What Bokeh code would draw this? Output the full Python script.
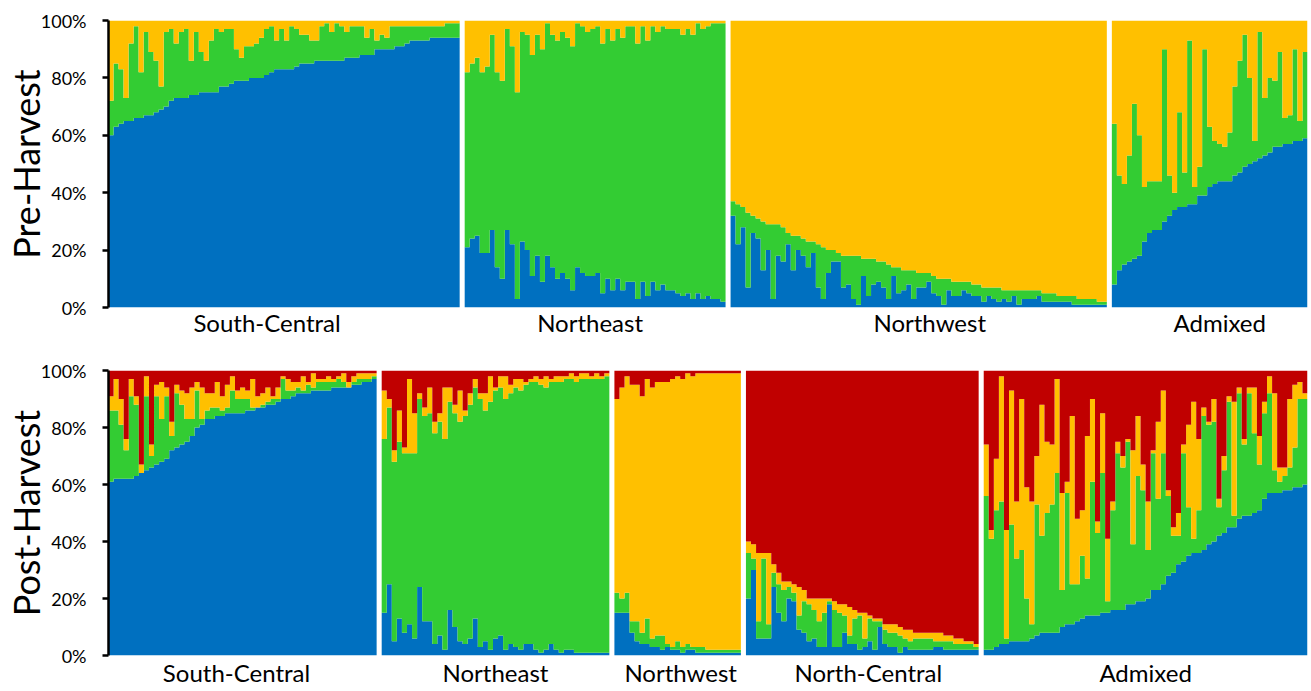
from bokeh.plotting import figure
from bokeh.layouts import column
from bokeh.models import ColumnDataSource, Range1d, FixedTicker, PrintfTickFormatter
from bokeh.embed import file_html
from bokeh.resources import INLINE

# ---------------- Pre-Harvest (K=3) ----------------
pre_groups = ["South-Central", "Northeast", "Northwest", "Admixed"]

pre_sc_blue = [60,63,64,65,65,66,66,67,67,68, 69,70,72,73,73,73,74,74,75,75,
               75,75,77,77,78,79,79,79,80,80, 80,81,82,83,83,83,83,84,85,85,
               85,86,86,86,86,86,86,87,87,87, 88,88,88,90,90,90,90,91,91,92,
               93,93,93,93,94,94,94,94,94,94]
pre_sc_green = [12,22,19,8,27,32,16,29,22,18, 8,26,25,19,23,24,12,22,14,11,
                18,22,19,20,19,11,8,12,11,12, 14,16,16,10,14,10,15,13,10,10,
                8,7,12,13,10,13,12,9,11,11, 10,6,9,3,5,4,8,7,7,6,
                5,5,5,5,4,4,4,5,5,5]
pre_sc_yellow = [28,15,17,27,8,2,18,4,11,14, 23,4,3,8,4,3,14,4,11,14,
                 7,3,4,3,3,10,13,9,9,8, 6,3,2,7,3,7,2,3,5,5,
                 7,7,2,1,4,1,2,4,2,2, 2,6,3,7,5,6,2,2,2,2,
                 2,2,2,2,2,2,2,1,1,1]

pre_ne_blue = [21,24,25,19,19,27,14,10,27,22, 3,23,20,11,18,9,18,14,10,12,
               10,6,14,12,11,11,12,5,10,6, 10,6,9,9,3,9,4,9,6,8,
               6,6,5,4,5,3,5,3,4,3, 3,2]
pre_ne_green = [61,61,62,63,65,68,68,69,70,69, 72,73,75,77,77,81,81,81,83,84,
                84,85,85,86,85,86,86,87,87,87, 87,88,89,89,89,89,89,89,90,90,
                91,91,92,91,92,92,94,94,94,96, 96,97]
pre_ne_yellow = [18,15,13,18,16,5,18,21,3,9, 25,4,5,12,5,10,1,5,7,4,
                 6,9,1,2,4,3,2,8,3,7, 3,6,2,2,8,2,7,2,4,2,
                 3,3,3,5,3,5,1,3,2,1, 1,1]

pre_nw_blue = [32,22,28,7,26,24,13,20,3,18, 16,22,13,20,18,14,19,7,3,12,
               16,16,7,8,3,1,11,4,8,9, 7,3,11,5,6,8,3,7,7,9,
               5,4,1,6,4,4,6,5,4,4, 2,4,3,2,3,2,4,1,3,3,
               3,4,2,2,2,2,2,2,1,1, 1,1,1,1,1]
pre_nw_green = [5,14,7,26,6,7,17,9,26,11, 12,4,12,5,6,9,4,15,18,8,
                4,3,11,10,15,17,6,13,9,7, 9,12,3,9,7,5,10,5,5,3,
                6,6,9,4,5,5,3,4,4,4, 5,3,4,5,3,4,2,5,3,3,
                3,2,3,3,3,2,2,2,3,2, 2,2,2,1,1]
pre_nw_yellow = [63,64,65,67,68,69,70,71,71,71, 72,74,75,75,76,77,77,78,79,80,
                 80,81,82,82,82,82,83,83,83,84, 84,85,86,86,87,87,87,88,88,88,
                 89,90,90,90,91,91,91,91,92,92, 93,93,93,93,94,94,94,94,94,94,
                 94,94,95,95,95,96,96,96,96,97, 97,97,97,98,98]

pre_ad_blue = [8,13,15,16,17,18,23,26,27,27, 30,32,34,35,35,36,36,39,39,42,
               43,44,44,44,46,47,49,50,51,52, 53,54,56,56,57,57,58,58,59]
pre_ad_green = [56,33,28,37,54,42,19,18,17,17, 60,14,6,33,12,57,6,10,51,21,
                15,13,12,17,31,39,46,30,7,44, 20,26,23,33,9,10,32,7,30]
pre_ad_yellow = [36,54,57,47,29,40,58,56,56,56, 10,54,60,32,53,7,58,51,10,37,
                 42,43,44,39,23,14,5,20,42,4, 27,20,21,11,34,33,10,35,11]

# ---------------- Post-Harvest (K=4) ----------------
post_groups = ["South-Central", "Northeast", "Northwest", "North-Central", "Admixed"]

post_sc_blue = [61,62,62,62,62,63,64,65,66,67, 68,69,72,73,74,75,77,80,81,83,
                83,84,84,85,85,85,85,86,86,87, 87,88,88,89,90,90,91,92,92,92,
                93,93,93,93,94,94,94,94,95,95, 96,96,97]
post_sc_green = [25,24,19,10,29,25,0,26,4,24, 15,22,5,19,14,8,6,13,2,3,
                 4,3,2,2,8,5,5,4,1,0, 1,1,2,1,7,3,2,2,1,3,
                 1,3,3,3,2,3,2,0,1,2, 1,1,1]
post_sc_yellow = [5,11,9,4,6,3,3,7,4,4, 13,3,5,3,5,9,11,3,11,6,
                  5,9,5,8,5,3,4,3,10,4, 4,5,1,4,1,4,3,2,5,1,
                  5,1,1,2,1,1,3,2,2,2, 2,2,1]
post_sc_red = [9,3,10,24,3,9,33,2,26,5, 4,6,18,5,7,8,6,4,6,8,
               8,4,9,5,2,7,6,7,3,9, 8,6,9,6,2,3,4,4,2,4,
               1,3,3,2,3,2,1,4,2,1, 1,1,1]

post_ne_blue = [15,25,5,13,8,11,6,24,12,12, 4,7,2,16,10,5,4,6,13,3,
                5,2,6,7,2,4,3,2,4,4, 2,1,2,4,2,1,2,2,1,1,
                1,1,1,1,1]
post_ne_green = [61,62,63,62,63,60,65,66,72,73, 74,75,74,73,75,77,80,82,81,87,
                 81,87,87,87,88,88,91,91,91,92, 94,94,92,92,94,95,95,95,95,96,
                 96,96,96,96,97]
post_ne_yellow = [17,3,4,11,2,26,14,2,3,9, 4,3,18,5,3,11,2,4,3,2,
                  6,9,1,4,8,3,3,4,1,1, 2,2,4,1,2,2,1,2,2,2,
                  2,1,2,1,1]
post_ne_red = [7,10,28,14,27,3,15,8,13,6, 18,15,6,6,12,7,14,8,3,8,
               8,2,6,2,2,5,3,3,4,3, 2,3,2,3,2,2,2,1,2,1,
               1,2,1,2,1]

post_nw_blue = [15,15,15,8,5,4,4,3,3,2, 3,2,2,1,2,2,1,1,1,1, 1,1,1,1,1]
post_nw_green = [7,5,7,4,7,4,9,3,4,5, 1,1,3,2,2,1,2,2,1,1, 1,1,1,1,1]
post_nw_yellow = [68,74,76,83,83,83,84,88,89,89, 92,94,93,94,95,95,96,96,97,97,
                  97,97,97,97,97]
post_nw_red = [10,6,2,5,5,9,3,6,4,4, 4,3,2,3,1,2,1,1,1,1, 1,1,1,1,1]

post_nc_blue = [20,30,6,6,6,24,15,12,20,19, 9,8,5,6,3,3,18,3,3,8,
                4,4,2,3,5,2,10,4,3,3, 1,3,2,2,2,2,2,3,3,2,
                2,2,2,2,2,2]
post_nc_green = [16,4,6,28,5,5,10,11,4,3, 5,11,13,10,9,12,1,13,12,6,
                 3,9,12,3,8,10,2,5,5,5, 6,3,3,4,4,4,4,2,2,3,
                 3,2,2,2,2,1]
post_nc_yellow = [4,5,24,2,25,3,4,3,2,3, 10,4,2,4,8,5,1,3,3,4,
                  10,3,1,9,1,1,1,2,3,3, 3,3,4,2,2,2,2,3,3,2,
                  2,2,2,1,1,1]
post_nc_red = [60,61,64,64,64,68,71,74,74,75, 76,77,80,80,80,80,80,81,82,82,
               83,84,85,85,86,87,87,89,89,89, 90,91,91,92,92,92,92,92,92,93,
               93,94,94,95,95,96]

post_ad_blue = [2,2,3,4,4,5,5,5,5,6, 7,8,8,8,8,10,11,11,12,13,
                14,14,14,15,15,16,16,16,18,18, 19,19,20,23,23,25,28,29,32,33,
                35,36,36,37,39,40,42,43,45,45, 48,49,49,50,51,55,57,57,57,58,
                58,59,59,60]
post_ad_green = [54,39,48,50,2,41,29,32,15,5, 46,34,42,45,56,13,46,14,13,22,
                 13,47,29,49,4,35,55,50,57,21, 44,39,17,48,32,46,28,13,10,38,
                 17,5,15,47,42,42,10,22,44,4, 44,25,43,28,16,30,35,8,4,5,
                 8,14,31,30]
post_ad_yellow = [18,3,18,44,38,47,20,53,39,43, 17,46,25,21,33,34,4,59,23,16,
                  50,29,4,21,22,3,4,4,1,33, 21,9,17,1,27,22,2,3,8,3,
                  29,48,25,3,1,8,3,5,2,40, 2,2,2,16,10,4,6,27,5,3,
                  24,22,6,2]
post_ad_red = [26,56,31,2,56,7,46,10,41,46, 30,12,25,26,3,43,39,16,52,49,
               23,10,53,15,59,46,25,30,24,28, 16,33,46,28,18,7,42,55,50,26,
               19,11,24,13,18,10,45,30,9,11, 6,24,6,6,23,11,2,8,34,34,
               10,5,4,8]

y_ticks = [0, 20, 40, 60, 80, 100]

# ---------------- styling ----------------
COLORS = {"blue": "#0070C0", "green": "#33CC33", "yellow": "#FFC000", "red": "#C00000"}
FONT = "Lato"
# small horizontal nudges of the group captions (in bar widths)
pre_label_nudge = [-3.4, -1.0, 2.2, 2.0]
post_label_nudge = [-1.2, 0.0, 0.6, 1.2, 0.0]

pre_panels = [
    {"blue": pre_sc_blue, "green": pre_sc_green, "yellow": pre_sc_yellow},
    {"blue": pre_ne_blue, "green": pre_ne_green, "yellow": pre_ne_yellow},
    {"blue": pre_nw_blue, "green": pre_nw_green, "yellow": pre_nw_yellow},
    {"blue": pre_ad_blue, "green": pre_ad_green, "yellow": pre_ad_yellow},
]
post_panels = [
    {"blue": post_sc_blue, "green": post_sc_green, "yellow": post_sc_yellow, "red": post_sc_red},
    {"blue": post_ne_blue, "green": post_ne_green, "yellow": post_ne_yellow, "red": post_ne_red},
    {"blue": post_nw_blue, "green": post_nw_green, "yellow": post_nw_yellow, "red": post_nw_red},
    {"blue": post_nc_blue, "green": post_nc_green, "yellow": post_nc_yellow, "red": post_nc_red},
    {"blue": post_ad_blue, "green": post_ad_green, "yellow": post_ad_yellow, "red": post_ad_red},
]


def build(groups, panels, comps, nudges, ylabel, height, b_top, b_bottom, lbl_standoff):
    n_units = sum(len(p[comps[0]]) for p in panels) + (len(panels) - 1)
    fig = figure(width=1310, height=height,
                 x_range=Range1d(0, n_units), y_range=Range1d(0, 100),
                 output_backend="svg", toolbar_location=None,
                 min_border_left=108, min_border_right=3,
                 min_border_top=b_top, min_border_bottom=b_bottom)
    offset = 0
    label_pos = []
    for name, panel, nudge in zip(groups, panels, nudges):
        n = len(panel[comps[0]])
        totals = [sum(panel[c][i] for c in comps) for i in range(n)]
        # bar edges: each individual is one unit wide; stacked as step areas
        data = {"x": [offset + i for i in range(n + 1)]}
        lower = [0.0] * n
        for c in comps:
            vals = [panel[c][i] * 100.0 / totals[i] for i in range(n)]
            upper = [lower[i] + vals[i] for i in range(n)]
            data[c + "_lo"] = lower + [lower[-1]]
            data[c + "_hi"] = upper + [upper[-1]]
            lower = upper
        src = ColumnDataSource(data)
        for c in comps:
            fig.varea_step(x="x", y1=c + "_lo", y2=c + "_hi", step_mode="after",
                           fill_color=COLORS[c], source=src)
        label_pos.append(offset + n / 2.0 + nudge)
        offset += n + 1

    fig.xgrid.visible = False
    fig.ygrid.visible = False
    fig.outline_line_color = None
    fig.background_fill_color = "white"
    fig.border_fill_color = "white"

    xa = fig.xaxis[0]
    xa.ticker = FixedTicker(ticks=label_pos)
    xa.major_label_overrides = {c: g for c, g in zip(label_pos, groups)}
    xa.axis_line_color = None
    xa.major_tick_line_color = None
    xa.minor_tick_line_color = None
    xa.major_label_text_font = FONT
    xa.major_label_text_font_size = "24px"
    xa.major_label_text_color = "black"
    xa.major_label_standoff = lbl_standoff

    ya = fig.yaxis[0]
    ya.ticker = FixedTicker(ticks=y_ticks)
    ya.formatter = PrintfTickFormatter(format="%d%%")
    ya.axis_line_color = "black"
    ya.axis_line_width = 2.5
    ya.major_tick_line_color = "black"
    ya.major_tick_line_width = 2.5
    ya.major_tick_out = 6
    ya.major_tick_in = 0
    ya.minor_tick_line_color = None
    ya.major_label_text_font = FONT
    ya.major_label_text_font_size = "18px"
    ya.major_label_text_color = "black"
    ya.major_label_standoff = 16
    ya.axis_label = ylabel
    ya.axis_label_text_font = FONT
    ya.axis_label_text_font_size = "36px"
    ya.axis_label_text_font_style = "normal"
    ya.axis_label_text_color = "black"
    ya.axis_label_standoff = -10
    return fig


p1 = build(pre_groups, pre_panels, ["blue", "green", "yellow"], pre_label_nudge,
           "Pre-Harvest", 347, 20, 40, -6)
p2 = build(post_groups, post_panels, ["blue", "green", "yellow", "red"], post_label_nudge,
           "Post-Harvest", 343, 23, 35, -4)

p = column(p1, p2)
open("out.html", "w").write(file_html(p, INLINE))
